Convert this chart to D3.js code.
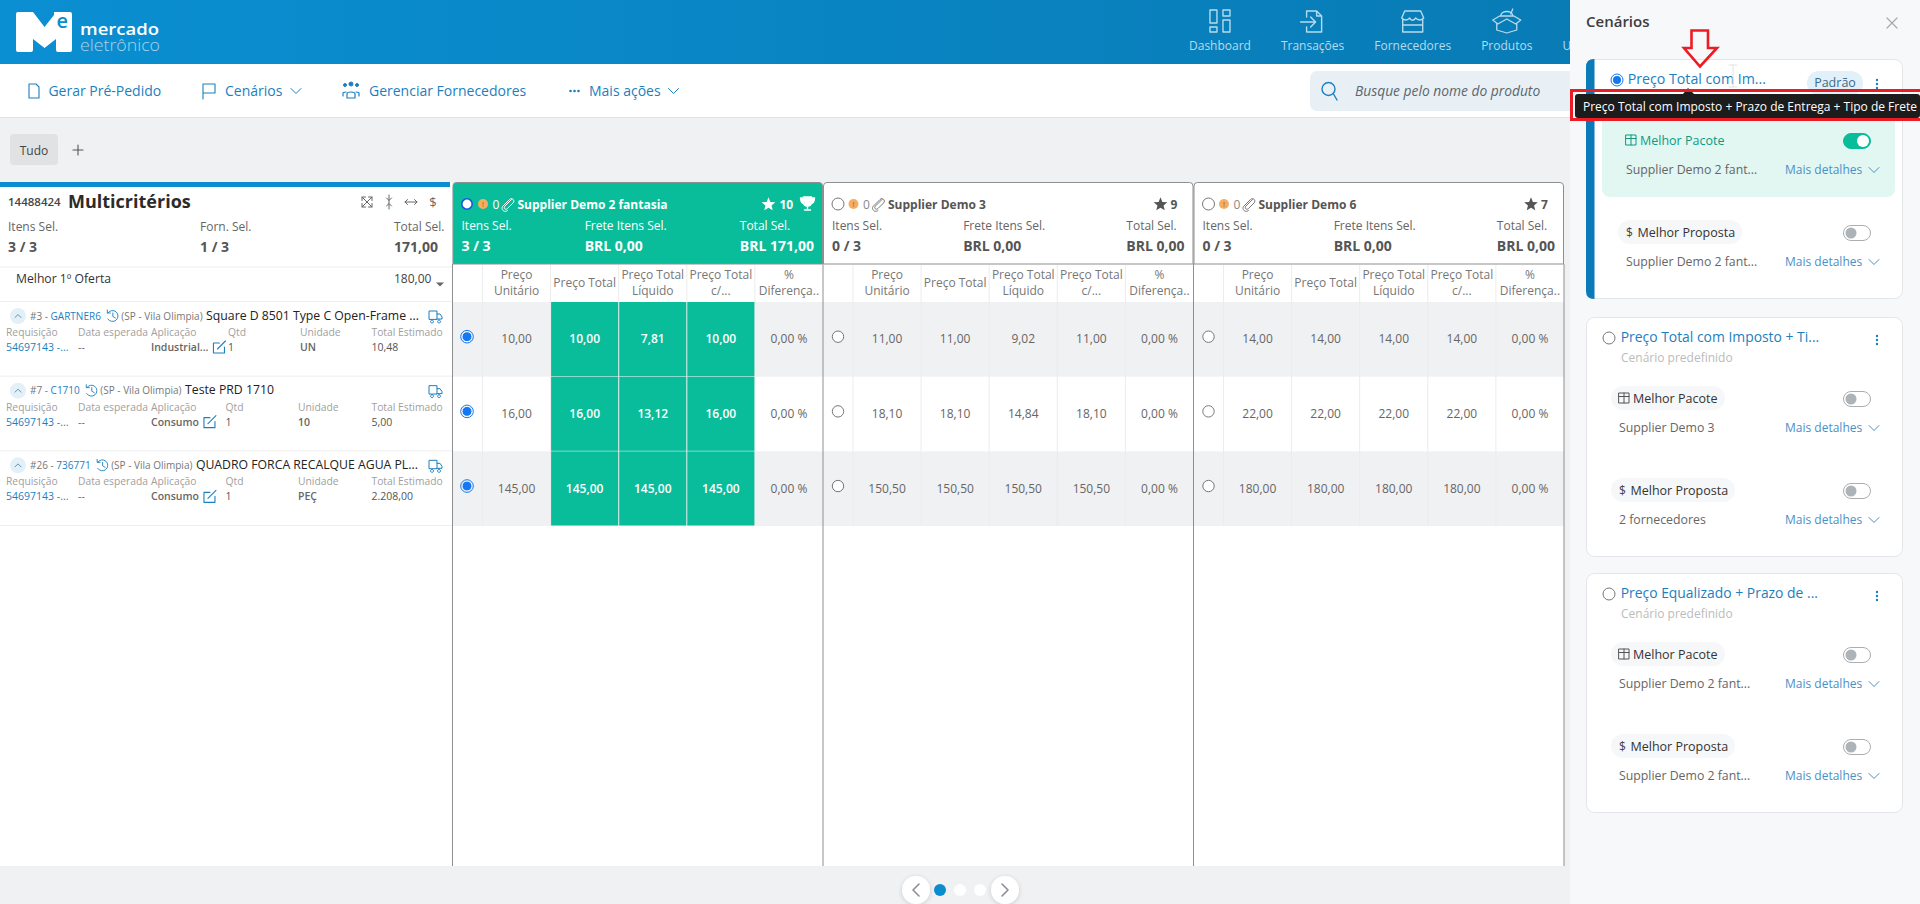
<!DOCTYPE html>
<html lang="pt-BR">
<head>
  <meta charset="UTF-8">
  <title>Multicritérios</title>
  <script src="https://d3js.org/d3.v7.min.js"></script>
  <style>
    html, body { margin: 0; padding: 0; background: #f0f1f3; overflow: hidden; }
    svg { display: block; font-family: "Open Sans", sans-serif; }
  </style>
</head>
<body>
<div id="chart"></div>
<script>
// supplier columns
const supplierNames = ["Supplier Demo 2 fantasia", "Supplier Demo 3", "Supplier Demo 6"];
const supplierStars = [10, 9, 7];
const itensSel = ["3 / 3", "0 / 3", "0 / 3"];
const freteSel = ["BRL 0,00", "BRL 0,00", "BRL 0,00"];
const totalSel = ["BRL 171,00", "BRL 0,00", "BRL 0,00"];
const columnLabels = [["Preço", "Unitário"], ["Preço Total"], ["Preço Total", "Líquido"], ["Preço Total", "c/..."], ["%", "Diferença.."]];

// prices per supplier, one value per item
const precoUnitario = [[10, 16, 145], [11, 18.10, 150.50], [14, 22, 180]];
const precoTotal = [[10, 16, 145], [11, 18.10, 150.50], [14, 22, 180]];
const precoLiquido = [[7.81, 13.12, 145], [9.02, 14.84, 150.50], [14, 22, 180]];
const precoImposto = [[10, 16, 145], [11, 18.10, 150.50], [14, 22, 180]];
const diferenca = [[0, 0, 0], [0, 0, 0], [0, 0, 0]];

// items on the left
const itemNumbers = ["#3 - ", "#7 - ", "#26 - "];
const itemCodes = ["GARTNER6", "C1710", "736771"];
const itemNames = ["Square D 8501 Type C Open-Frame ...", "Teste PRD 1710", "QUADRO FORCA RECALQUE AGUA PL..."];
const itemAplicacao = ["Industrial...", "Consumo", "Consumo"];
const itemQtd = ["1", "1", "1"];
const itemUnidade = ["UN", "10", "PEÇ"];
const itemEstimado = ["10,48", "5,00", "2.208,00"];
const detailLabels = ["Requisição", "Data esperada", "Aplicação", "Qtd", "Unidade", "Total Estimado"];

// scenarios on the right
const scenarioTitles = ["Preço Total com Im...", "Preço Total com Imposto + Ti...", "Preço Equalizado + Prazo de ..."];
const scenarioPacote = ["Supplier Demo 2 fant...", "Supplier Demo 3", "Supplier Demo 2 fant..."];
const scenarioProposta = ["Supplier Demo 2 fant...", "2 fornecedores", "Supplier Demo 2 fant..."];

const navLabels = ["Dashboard", "Transações", "Fornecedores", "Produtos", "U"];

const width = 1920, height = 904;
const BLUE = "#0a8ccf", GREEN = "#0abd9a", LINK = "#1b7fc0", GREY_LINE = "#8f8f8f";

const svg = d3.select("#chart").append("svg").attr("width", width).attr("height", height);
const numBR = d3.formatLocale({ decimal: ",", thousands: ".", grouping: [3], currency: ["", ""] }).format(",.2f");

function txt(parent, x, y, s, o = {}) {
  return parent.append("text").attr("x", x).attr("y", y).text(s)
    .attr("font-size", o.size || 12).attr("font-weight", o.weight || 400)
    .attr("fill", o.fill || "#666").attr("text-anchor", o.anchor || "start")
    .attr("font-style", o.style || "normal");
}
function textW(sel) { return sel.node().getComputedTextLength(); }
function icon(parent, x, y, d, color, sw = 1.2, fill = "none") {
  return parent.append("path").attr("transform", `translate(${x},${y})`).attr("d", d)
    .attr("fill", fill).attr("stroke", color).attr("stroke-width", sw)
    .attr("stroke-linecap", "round").attr("stroke-linejoin", "round");
}
function chevronDown(parent, x, y, color) { icon(parent, x, y, "M-5,-2.5L0,2.5L5,-2.5", color, 1); }
function star(parent, x, y, color) {
  const pts = d3.range(10).map(i => {
    const r = i % 2 ? 3.2 : 7.2, a = -Math.PI / 2 + i * Math.PI / 5;
    return [x + r * Math.cos(a), y + r * Math.sin(a)];
  });
  parent.append("polygon").attr("points", pts.join(" ")).attr("fill", color);
}
function clipIcon(parent, x, y, color) {
  icon(parent, x, y, "M4,-5L-2.5,1.5C-4.5,3.5 -2,6 0,4L5.5,-1.5C8,-4 4.5,-7.5 2,-5L-4.5,1.5C-7.5,4.5 -3,9 0,6", color, 1);
}

/* ---------- header ---------- */
const defs = svg.append("defs");
const grad = defs.append("linearGradient").attr("id", "headGrad");
grad.append("stop").attr("offset", "0%").attr("stop-color", "#0a8fd2");
grad.append("stop").attr("offset", "100%").attr("stop-color", "#0877af");
const shadow = defs.append("filter").attr("id", "soft").attr("x", "-40%").attr("y", "-40%").attr("width", "180%").attr("height", "180%");
shadow.append("feDropShadow").attr("dx", 0).attr("dy", 1).attr("stdDeviation", 2).attr("flood-color", "#000").attr("flood-opacity", 0.18);

svg.append("rect").attr("width", width).attr("height", 64).attr("fill", "url(#headGrad)");

// logo
svg.append("path").attr("fill", "#fff")
  .attr("d", "M18,12H33L44.5,27L54,15V12H70Q72,12 72,14V50Q72,52 70,52H58Q56,52 56,50V39L44.5,48L33,39V50Q33,52 31,52H18Q16,52 16,50V14Q16,12 18,12Z");
svg.append("circle").attr("cx", 63).attr("cy", 21).attr("r", 9).attr("fill", "#fff");
txt(svg, 56.5, 27.5, "e", { size: 20, weight: 600, fill: "#0a8ccf" });
txt(svg, 80, 35, "mercado", { size: 16.5, weight: 600, fill: "#fff" }).attr("textLength", 79).attr("lengthAdjust", "spacingAndGlyphs");
txt(svg, 80, 50.5, "eletrônico", { size: 16, weight: 300, fill: "#a6d3ec" }).attr("textLength", 80).attr("lengthAdjust", "spacingAndGlyphs");

// top nav, laid out like a flex row from the first label
const navColor = "#b5dbee";
const navCenters = {};
let navLeft = 1189;
navLabels.forEach(l => {
  const t = txt(svg, navLeft, 50, l, { size: 12, fill: navColor });
  const w = textW(t);
  navCenters[l] = navLeft + w / 2;
  navLeft += w + 30;
});
icon(svg, navCenters["Dashboard"], 21, "M-10,-11H-3V2H-10ZM3,-11H10V-5H3ZM3,-1H10V11H3ZM-10,6H-3V11H-10Z", navColor, 1.4);
icon(svg, navCenters["Transações"], 21, "M-6,-4V-10H4L9,-5V11H-6V6M4,-10V-5H9M-12,1H3M-2,-4L3,1L-2,6", navColor, 1.4);
icon(svg, navCenters["Fornecedores"], 21, "M-11,-3L-8,-10H8L11,-3C8,0 5,-1 3,-3C1,0 -2,0 -3,-3C-5,-1 -8,0 -11,-3ZM-10,-1V11H10V-1M-10,4H10", navColor, 1.4);
icon(svg, navCenters["Produtos"], 21, "M-6,-5C-6,-11 6,-11 6,-5M4,-7L6,-12M-14,-1L-7,-5H7L14,-1L9,3L0,-2L-9,3ZM-10,3V9L0,12L10,9V3", navColor, 1.3);

/* ---------- toolbar ---------- */
svg.append("rect").attr("y", 64).attr("width", width).attr("height", 53).attr("fill", "#fff");
svg.append("rect").attr("y", 117).attr("width", width).attr("height", 1).attr("fill", "#dfe1e3");
const tbY = 96;
icon(svg, 34, 91, "M-5,-7H2L5,-4V7H-5Z", LINK, 1.1);
txt(svg, 48.4, tbY, "Gerar Pré-Pedido", { size: 14, fill: LINK });
icon(svg, 209, 91, "M-6,8V-7H6V2H-6", LINK, 1.1);
txt(svg, 225, tbY, "Cenários", { size: 14, fill: LINK });
chevronDown(svg, 296, 91, LINK);
icon(svg, 351, 87, "M-2,-3a2,2 0 1,0 4,0a2,2 0 1,0 -4,0", LINK, 1, LINK);
icon(svg, 345, 88, "M-1.5,-3a1.5,1.5 0 1,0 3,0a1.5,1.5 0 1,0 -3,0", LINK, 1, LINK);
icon(svg, 357, 88, "M-1.5,-3a1.5,1.5 0 1,0 3,0a1.5,1.5 0 1,0 -3,0", LINK, 1, LINK);
icon(svg, 351, 95, "M-4,3V-1Q-4,-3 0,-3Q4,-3 4,-1V3ZM-8,1V-2Q-8,-3 -5,-3M8,1V-2Q8,-3 5,-3", LINK, 1.2);
txt(svg, 369, tbY, "Gerenciar Fornecedores", { size: 14, fill: LINK });
[-4, 0, 4].forEach(d => svg.append("circle").attr("cx", 574.5 + d).attr("cy", 91).attr("r", 1.3).attr("fill", LINK));
txt(svg, 589, tbY, "Mais ações", { size: 14, fill: LINK });
chevronDown(svg, 673.5, 91, LINK);

svg.append("rect").attr("x", 1310).attr("y", 71).attr("width", 270).attr("height", 40).attr("rx", 7).attr("fill", "#e8f0f5");
icon(svg, 1328, 90, "M-6,-1a6.5,6.5 0 1,0 13,0a6.5,6.5 0 1,0 -13,0M5.5,4L9,10", LINK, 1.4);
txt(svg, 1355, 96, "Busque pelo nome do produto", { size: 13.8, fill: "#5a6670", style: "italic" });

/* ---------- tabs ---------- */
svg.append("rect").attr("x", 10).attr("y", 134).attr("width", 48).attr("height", 31).attr("rx", 4).attr("fill", "#e1e2e3");
txt(svg, 34, 154.5, "Tudo", { size: 12, fill: "#444", anchor: "middle" });
icon(svg, 78, 150, "M-5,0H5M0,-5V5", "#555", 1.1);

/* ---------- left panel ---------- */
const left = svg.append("g");
left.append("rect").attr("y", 182).attr("width", 452).attr("height", 684).attr("fill", "#fff");
left.append("rect").attr("y", 182).attr("width", 450).attr("height", 5).attr("fill", BLUE);
txt(left, 8, 206, "14488424", { size: 11.5, weight: 600, fill: "#444" });
txt(left, 68, 208, "Multicritérios", { size: 18, weight: 700, fill: "#2b2b2b" });
icon(left, 367, 202, "M-5,-5L5,5M5,-5L-5,5M-5,-1.5V-5H-1.5M1.5,-5H5V-1.5M5,1.5V5H1.5M-1.5,5H-5V1.5", "#666", 1);
icon(left, 389, 202, "M0,-7V7M-2.5,-4L0,-1.5L2.5,-4M-2.5,4L0,1.5L2.5,4", "#666", 1);
icon(left, 411, 202, "M-6,0H6M-3.5,-2.5L-6,0L-3.5,2.5M3.5,-2.5L6,0L3.5,2.5", "#666", 1);
txt(left, 433, 207, "$", { size: 13, fill: "#666", anchor: "middle" });
txt(left, 8, 231, "Itens Sel.", { size: 12 });
txt(left, 200, 231, "Forn. Sel.", { size: 12 });
txt(left, 394, 231, "Total Sel.", { size: 12 });
txt(left, 8, 252, "3 / 3", { size: 14, weight: 700, fill: "#555" });
txt(left, 200, 252, "1 / 3", { size: 14, weight: 700, fill: "#555" });
txt(left, 394, 252, "171,00", { size: 14, weight: 700, fill: "#555" });
left.append("rect").attr("y", 266.5).attr("width", 452).attr("height", 1).attr("fill", "#eeeeee");
txt(left, 16, 283, "Melhor 1º Oferta", { size: 12.2, fill: "#333" });
txt(left, 394, 283, numBR(180), { size: 12, fill: "#444" });
left.append("path").attr("d", "M436,282.5H444L440,286.5Z").attr("fill", "#666");
left.append("rect").attr("y", 301).attr("width", 452).attr("height", 1).attr("fill", "#eeeeee");

/* ---------- scales for the comparison table ---------- */
const itemIdx = d3.range(itemNames.length);
const supIdx = d3.range(supplierNames.length);
const colIdx = d3.range(columnLabels.length);
const rowY = d3.scaleBand().domain(itemIdx).range([302, 526]);
const groupX = d3.scaleBand().domain(supIdx).range([452.5, 1564]);
const colX = d3.scaleBand().domain(colIdx).range([30, groupX.bandwidth()]);
const tableValues = [precoUnitario, precoTotal, precoLiquido, precoImposto];

// item rows, left side
itemIdx.forEach(i => {
  const top = rowY(i), g = left.append("g");
  g.append("rect").attr("y", top + rowY.bandwidth() - 1).attr("width", 452).attr("height", 1).attr("fill", "#eeeeee");
  g.append("circle").attr("cx", 18).attr("cy", top + 14).attr("r", 8).attr("fill", "#e3f0f8");
  icon(g, 18, top + 14, "M-3,1.5L0,-1.5L3,1.5", "#5e94b8", 1);
  const base = top + 17.5;
  let x = 30;
  let t = txt(g, x, base, itemNumbers[i], { size: 10, fill: "#777" }).style("white-space", "pre");
  x += textW(t);
  t = txt(g, x, base, itemCodes[i], { size: 10, fill: LINK });
  x += textW(t) + 6;
  icon(g, x + 6, top + 14, "M-5,-3A5.5,5.5 0 1,1 -5,3M-5.5,-6V-3H-2.5M0,-3V0.5L2.5,2", LINK, 0.9);
  x += 14.5;
  t = txt(g, x, base, "(SP - Vila Olimpia)", { size: 10, fill: "#777" });
  x += textW(t) + 3.5;
  txt(g, x, base, itemNames[i], { size: 12.25, fill: "#222" });
  icon(g, 435, top + 14, "M-6,3V-5H2V3ZM2,-2H5L7,1V3H2M-3,4a1.5,1.5 0 1,0 .1,0M4,4a1.5,1.5 0 1,0 .1,0", LINK, 1);

  const labelY = top + 34, valY = top + 49;
  const qtdX = i === 0 ? 228 : 225.5, undX = i === 0 ? 300 : 298;
  const lx = [6, 78, 151, qtdX, undX, 371.5];
  detailLabels.forEach((l, k) => txt(g, lx[k], labelY, l, { size: 10.3, fill: "#a0a0a0" }));
  txt(g, 6, valY, "54697143 -...", { size: 10.5, fill: LINK });
  txt(g, 78, valY, "--", { size: 10.5, fill: "#666" });
  t = txt(g, 151, valY, itemAplicacao[i], { size: 10.5, weight: 600, fill: "#666" });
  const ex = 151 + textW(t) + 11;
  icon(g, ex, valY - 4, "M-6,-4H0M-6,-4V6H5V0M-2,2L6,-6", LINK, 1.1);
  txt(g, qtdX, valY, itemQtd[i], { size: 10.5, fill: "#555" });
  txt(g, undX, valY, itemUnidade[i], { size: 10.5, weight: 600, fill: "#666" });
  txt(g, 371.5, valY, itemEstimado[i], { size: 10.5, fill: "#555" });
});

/* ---------- supplier groups ---------- */
svg.append("rect").attr("x", 452.5).attr("y", 264).attr("width", 1111.5).attr("height", 602).attr("fill", "#fff");

supIdx.forEach(s => {
  const gx = groupX(s), g = svg.append("g").attr("transform", `translate(${gx},0)`);
  const w = groupX.bandwidth(), selected = s === 0;
  const ink = selected ? "#fff" : "#666";

  // card on top of the columns
  g.append("path").attr("d", `M0.5,264V186Q0.5,182.5 4,182.5H${w - 4}Q${w - 0.5},182.5 ${w - 0.5},186V264Z`)
    .attr("fill", selected ? GREEN : "#fff").attr("stroke", GREY_LINE).attr("stroke-width", 1);

  if (selected) {
    g.append("circle").attr("cx", 14.5).attr("cy", 204).attr("r", 5.2).attr("fill", "#fff").attr("stroke", "#1a56e0").attr("stroke-width", 1.6);
  } else {
    g.append("circle").attr("cx", 15).attr("cy", 204).attr("r", 6).attr("fill", "#fff").attr("stroke", "#777").attr("stroke-width", 1);
  }
  g.append("circle").attr("cx", 30.5).attr("cy", 204).attr("r", 5).attr("fill", "#f6ad62");
  txt(g, 30.5, 207, "!", { size: 7, weight: 700, fill: "#b87a30", anchor: "middle" });
  txt(g, 40, 208.5, "0", { size: 12, fill: selected ? "#fff" : "#888" });
  clipIcon(g, 55, 204.5, selected ? "#fff" : "#777");
  txt(g, 65, 208.5, supplierNames[s], { size: 12, weight: 700, fill: selected ? "#fff" : "#555" });

  if (selected) {
    star(g, 316, 204.5, "#fff");
    txt(g, 327, 208.5, supplierStars[s], { size: 12, weight: 700, fill: "#fff" });
    icon(g, 355, 203, "M-4,-6H4V-1Q4,3 0,3Q-4,3 -4,-1ZM-4,-5H-7Q-7,0 -3,1M4,-5H7Q7,0 3,1M0,3V6M-3,7H3", "#fff", 1.4, "#fff");
  } else {
    star(g, w - 33, 204.5, "#555");
    txt(g, w - 23, 208.5, supplierStars[s], { size: 12, weight: 700, fill: "#555" });
  }

  // summary columns spread like a flex row
  const sumLabels = ["Itens Sel.", "Frete Itens Sel.", "Total Sel."];
  const sumValues = [itensSel[s], freteSel[s], totalSel[s]];
  const labels = sumLabels.map(l => txt(g, 0, 230, l, { size: 12, fill: ink }));
  const vals = sumValues.map(v => txt(g, 0, 251, v, { size: 14, weight: 700, fill: selected ? "#fff" : "#555" }));
  const widths = labels.map((l, k) => Math.max(textW(l), textW(vals[k])));
  const gap = (w - 18 - d3.sum(widths)) / 2;
  let cx = 9;
  labels.forEach((l, k) => {
    l.attr("x", cx); vals[k].attr("x", cx);
    cx += widths[k] + gap;
  });

  // striped rows
  itemIdx.forEach(i => {
    if (i % 2 === 0) g.append("rect").attr("y", rowY(i)).attr("width", w).attr("height", rowY.bandwidth()).attr("fill", "#f0f1f3");
    g.append("circle").attr("cx", selected ? 14.5 : 15).attr("cy", rowY(i) + 34.7).attr("r", selected ? 5 : 5.7)
      .attr("fill", selected ? "#1478f0" : "#fff")
      .attr("stroke", selected ? "#fff" : "#777").attr("stroke-width", 1);
    if (selected) {
      g.append("circle").attr("cx", 14.5).attr("cy", rowY(i) + 34.7).attr("r", 6.3).attr("fill", "none").attr("stroke", "#1478f0").attr("stroke-width", 1);
    }
  });

  // column separators
  [0].concat(colIdx).forEach((c, k) => {
    const x = k === 0 ? colX(0) : colX(c) + colX.bandwidth();
    if (k === columnLabels.length) return;
    g.append("line").attr("x1", x).attr("x2", x).attr("y1", 265).attr("y2", 526).attr("stroke", "#ececec");
  });

  // column headers
  colIdx.forEach(c => {
    const cxm = colX(c) + colX.bandwidth() / 2, lines = columnLabels[c];
    lines.forEach((line, k) => {
      const y = lines.length === 1 ? 287 : 279 + k * 16;
      txt(g, cxm, y, line, { size: 12, fill: "#777", anchor: "middle" });
    });
  });

  // winning cells
  if (selected) {
    itemIdx.forEach(i => {
      d3.range(1, 4).forEach(c => {
        g.append("rect").attr("x", colX(c) + 0.5).attr("y", rowY(i)).attr("width", colX.bandwidth() - 1).attr("height", rowY.bandwidth() - 0.5).attr("fill", GREEN);
      });
    });
  }

  // values
  itemIdx.forEach(i => {
    const y = rowY(i) + rowY.bandwidth() / 2 + 4;
    tableValues.forEach((tv, c) => {
      const hot = selected && c > 0;
      txt(g, colX(c) + colX.bandwidth() / 2, y, numBR(tv[s][i]), { size: 12, weight: hot ? 600 : 400, fill: hot ? "#fff" : "#666", anchor: "middle" });
    });
    txt(g, colX(4) + colX.bandwidth() / 2, y, numBR(diferenca[s][i]) + " %", { size: 12, fill: "#666", anchor: "middle" });
  });
});

// dark lines between the supplier groups
supIdx.concat(supIdx.length).forEach(s => {
  const x = s === supIdx.length ? groupX(s - 1) + groupX.bandwidth() : groupX(s);
  svg.append("line").attr("x1", x).attr("x2", x).attr("y1", 264).attr("y2", 866).attr("stroke", GREY_LINE).attr("stroke-width", 1);
});

/* ---------- pager ---------- */
[916, 1005].forEach(x => svg.append("circle").attr("cx", x).attr("cy", 890).attr("r", 14).attr("fill", "#fff").attr("filter", "url(#soft)"));
icon(svg, 916, 890, "M3,-6L-3,0L3,6", "#8a8f95", 1.6);
icon(svg, 1005, 890, "M-3,-6L3,0L-3,6", "#8a8f95", 1.6);
svg.append("circle").attr("cx", 940).attr("cy", 890).attr("r", 6).attr("fill", BLUE);
[960, 980].forEach(x => svg.append("circle").attr("cx", x).attr("cy", 890).attr("r", 6).attr("fill", "#fff"));

/* ---------- scenarios panel ---------- */
const side = svg.append("g");
side.append("rect").attr("x", 1570).attr("width", 350).attr("height", height).attr("fill", "#f7f8fa");
txt(side, 1586, 27, "Cenários", { size: 15, weight: 600, fill: "#3d3d3d" });
icon(side, 1892, 23, "M-5,-5L5,5M5,-5L-5,5", "#a8a8a8", 1.2);

const cardY = d3.scaleOrdinal().domain([0, 1, 2]).range([59, 317, 573]);

function toggle(g, cy, on) {
  g.append("rect").attr("x", 1843.5).attr("y", cy - 7.5).attr("width", 27).attr("height", 15).attr("rx", 7.5)
    .attr("fill", on ? GREEN : "#fff").attr("stroke", on ? GREEN : "#a9aeb3");
  g.append("circle").attr("cx", on ? 1863 : 1851).attr("cy", cy).attr("r", on ? 6 : 5.5).attr("fill", on ? "#fff" : "#aeb3b8");
}
function mais(g, y) {
  txt(g, 1785, y, "Mais detalhes", { size: 12, fill: "#4a90c8" });
  chevronDown(g, 1874, y - 4, "#4a90c8");
}
function giftIcon(g, x, y, color) {
  icon(g, x, y, "M-5,-5H5V5H-5ZM-5,-1.5H5M0,-5V5", color, 1);
}

scenarioTitles.forEach((title, k) => {
  const top = cardY(k), g = side.append("g"), active = k === 0, dx = active ? 7 : 0;
  g.append("rect").attr("x", 1586.5).attr("y", top + 0.5).attr("width", 316).attr("height", 239).attr("rx", 8)
    .attr("fill", "#fff").attr("stroke", "#e3e5e8");
  if (active) {
    g.append("path").attr("d", `M1594,${top}H1594.5V${top + 240}H1594Q1586,${top + 240} 1586,${top + 232}V${top + 8}Q1586,${top} 1594,${top}Z`).attr("fill", "#0a7ab8");
    g.append("rect").attr("x", 1602).attr("y", top + 55).attr("width", 293).attr("height", 83).attr("rx", 8).attr("fill", "#e2f6f2");
    g.append("rect").attr("x", 1807).attr("y", top + 12).attr("width", 56).attr("height", 24).attr("rx", 12).attr("fill", "#e2f0f9");
    txt(g, 1835, top + 28, "Padrão", { size: 12.5, fill: "#3a6d8c", anchor: "middle" });
  }
  g.append("circle").attr("cx", active ? 1617 : 1609).attr("cy", top + 21).attr("r", 6)
    .attr("fill", "#fff").attr("stroke", active ? "#1478f0" : "#777").attr("stroke-width", 1);
  if (active) g.append("circle").attr("cx", 1617).attr("cy", top + 21).attr("r", 4).attr("fill", "#1478f0");
  txt(g, active ? 1627.7 : 1620.7, top + 25, title, { size: active ? 14.2 : 13.9, weight: 500, fill: LINK });
  txt(g, 1621 + dx, top + 45, "Cenário predefinido", { size: 12, fill: "#bbb" });
  [-4, 0, 4].forEach(d => g.append("circle").attr("cx", 1877).attr("cy", top + (active ? 25 : 23) + d).attr("r", 1.2).attr("fill", LINK));

  // Melhor Pacote block
  if (!active) g.append("rect").attr("x", 1611).attr("y", top + 69).attr("width", 114).attr("height", 24).attr("rx", 12).attr("fill", "#f6f7f9");
  giftIcon(g, 1624 + dx, top + 81, active ? "#0f9a7f" : "#555");
  txt(g, 1633 + dx, top + 85.5, "Melhor Pacote", { size: 12.5, weight: active ? 500 : 400, fill: active ? "#0f9a7f" : "#333" });
  toggle(g, top + 82, active);
  txt(g, 1619 + dx, top + 115, scenarioPacote[k], { size: 12.3, fill: "#666" });
  mais(g, top + 115);

  // Melhor Proposta block
  g.append("rect").attr("x", 1611 + dx).attr("y", top + 161).attr("width", 124).attr("height", 24).attr("rx", 12).attr("fill", "#f6f7f9");
  txt(g, 1619 + dx, top + 177.5, "$", { size: 12, fill: "#444" });
  txt(g, 1630.5 + dx, top + 177.5, "Melhor Proposta", { size: 12.5, fill: "#333" });
  toggle(g, top + 174, false);
  txt(g, 1619 + dx, top + 207, scenarioProposta[k], { size: 12.3, fill: "#666" });
  mais(g, top + 207);
});

// text cursor left in the screenshot
icon(side, 1733, 76, "M-4,-11H4M0,-11V11M-4,11H4", "#e2e2e2", 1);

/* ---------- annotations ---------- */
side.append("path").attr("d", "M1688,88L1694,94H1683Z").attr("fill", "#1c1c1c");
side.append("rect").attr("x", 1575).attr("y", 94).attr("width", 345).attr("height", 24).attr("rx", 3).attr("fill", "#1c1c1c");
txt(side, 1583, 111, "Preço Total com Imposto + Prazo de Entrega + Tipo de Frete", { size: 12, fill: "#fff" });
side.append("rect").attr("x", 1571.5).attr("y", 90.5).attr("width", 350).attr("height", 29).attr("fill", "none").attr("stroke", "#ed1c24").attr("stroke-width", 3);
side.append("path").attr("d", "M1691.5,30.5H1708V48H1717L1700,66.5L1684,48H1691.5Z").attr("fill", "none").attr("stroke", "#ed1c24").attr("stroke-width", 2.6);
</script>
</body>
</html>
